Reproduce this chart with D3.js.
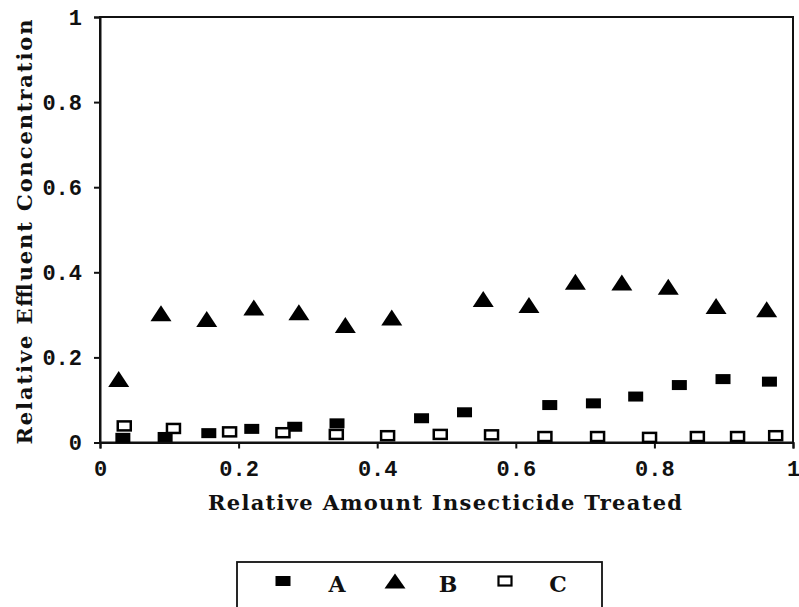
<!DOCTYPE html>
<html>
<head>
<meta charset="utf-8">
<script src="https://cdn.jsdelivr.net/npm/d3@7"></script>
<style>
  html, body { margin: 0; padding: 0; background: #fff; }
  svg { display: block; }
  text { font-weight: bold; fill: #111; }
  .serif { font-family: "DejaVu Serif", "Liberation Serif", serif; }
</style>
</head>
<body>
<svg id="chart" width="799" height="607"></svg>
<script>
// Relative effluent concentration vs. relative amount of insecticide treated
const xA = [0.033, 0.094, 0.157, 0.219, 0.281, 0.342, 0.464, 0.526, 0.649, 0.712, 0.773, 0.836, 0.899, 0.966];
const yA = [0.011, 0.013, 0.022, 0.032, 0.037, 0.045, 0.057, 0.071, 0.088, 0.092, 0.108, 0.135, 0.149, 0.143];

const xB = [0.027, 0.088, 0.154, 0.222, 0.287, 0.354, 0.421, 0.553, 0.619, 0.686, 0.753, 0.820, 0.889, 0.962];
const yB = [0.149, 0.304, 0.290, 0.317, 0.306, 0.276, 0.294, 0.337, 0.323, 0.378, 0.376, 0.366, 0.321, 0.313];

const xC = [0.035, 0.106, 0.187, 0.264, 0.341, 0.415, 0.491, 0.565, 0.642, 0.718, 0.793, 0.862, 0.920, 0.975];
const yC = [0.039, 0.033, 0.025, 0.023, 0.019, 0.016, 0.019, 0.018, 0.014, 0.014, 0.012, 0.014, 0.014, 0.016];

const tickValues = [0, 0.2, 0.4, 0.6, 0.8, 1];
const tickLabels = ["0", "0.2", "0.4", "0.6", "0.8", "1"];
const seriesNames = ["A", "B", "C"];

const svg = d3.select("#chart");
const x = d3.scaleLinear().domain([0, 1]).range([100, 793]);
const y = d3.scaleLinear().domain([0, 1]).range([442.5, 17]);

// Frame
svg.append("rect")
  .attr("x", x(0)).attr("y", y(1))
  .attr("width", x(1) - x(0)).attr("height", y(0) - y(1))
  .attr("fill", "none").attr("stroke", "#111").attr("stroke-width", 2);

const fmt = v => tickLabels[tickValues.indexOf(v)];

const yAxis = svg.append("g")
  .attr("transform", `translate(${x(0)},0)`)
  .call(d3.axisLeft(y).tickValues(tickValues).tickFormat(fmt).tickSize(6).tickPadding(12));
const xAxis = svg.append("g")
  .attr("transform", `translate(0,${y(0)})`)
  .call(d3.axisBottom(x).tickValues(tickValues).tickFormat(fmt).tickSize(6).tickPadding(12));

[xAxis, yAxis].forEach(g => {
  g.select(".domain").attr("stroke", "#111").attr("stroke-width", 2);
  g.selectAll(".tick line").attr("stroke", "#111").attr("stroke-width", 2);
  g.selectAll(".tick text")
    .attr("fill", "#111")
    .style("font-family", '"Liberation Mono", "Courier New", monospace')
    .style("font-weight", "bold")
    .style("font-size", "22px");
});

// Axis titles (typewriter-like spacing)
svg.append("text")
  .attr("class", "serif")
  .attr("x", 445).attr("y", 510)
  .attr("text-anchor", "middle")
  .attr("textLength", 474).attr("lengthAdjust", "spacing")
  .style("font-size", "21px")
  .text("Relative Amount Insecticide Treated");

svg.append("text")
  .attr("class", "serif")
  .attr("transform", "translate(32,232) rotate(-90)")
  .attr("text-anchor", "middle")
  .attr("textLength", 425).attr("lengthAdjust", "spacing")
  .style("font-size", "21px")
  .text("Relative Effluent Concentration");

// Marker shapes
const sqW = 15, sqH = 10;
const triPath = (cx, cy) => {
  const w = 21, h = 16;
  return `M${cx - w / 2},${cy + h / 2}L${cx},${cy - h / 2}L${cx + w / 2},${cy + h / 2}Z`;
};

const plot = svg.append("g");

// Series A: filled squares
plot.selectAll(".a").data(d3.zip(xA, yA)).join("rect")
  .attr("class", "a")
  .attr("x", d => x(d[0]) - sqW / 2).attr("y", d => y(d[1]) - sqH / 2)
  .attr("width", sqW).attr("height", sqH)
  .attr("fill", "#000");

// Series B: filled triangles
plot.selectAll(".b").data(d3.zip(xB, yB)).join("path")
  .attr("class", "b")
  .attr("d", d => triPath(x(d[0]), y(d[1])))
  .attr("fill", "#000");

// Series C: open squares
plot.selectAll(".c").data(d3.zip(xC, yC)).join("rect")
  .attr("class", "c")
  .attr("x", d => x(d[0]) - 6.5).attr("y", d => y(d[1]) - 4.5)
  .attr("width", 13).attr("height", 9)
  .attr("fill", "#fff").attr("stroke", "#000").attr("stroke-width", 2.5);

// Legend
const legend = svg.append("g");
legend.append("rect")
  .attr("x", 237).attr("y", 562).attr("width", 365).attr("height", 60)
  .attr("fill", "none").attr("stroke", "#111").attr("stroke-width", 1.8);

const legendMarkerX = [283, 395, 505];
const legendLabelX = [337, 448, 558];
const ly = 581;

legend.append("rect")
  .attr("x", legendMarkerX[0] - 7.5).attr("y", ly - 5)
  .attr("width", 15).attr("height", 10).attr("fill", "#000");
legend.append("path")
  .attr("d", `M${legendMarkerX[1] - 10.5},${ly + 7.5}L${legendMarkerX[1]},${ly - 7.5}L${legendMarkerX[1] + 10.5},${ly + 7.5}Z`)
  .attr("fill", "#000");
legend.append("rect")
  .attr("x", legendMarkerX[2] - 6.5).attr("y", ly - 4.5)
  .attr("width", 13).attr("height", 9)
  .attr("fill", "#fff").attr("stroke", "#000").attr("stroke-width", 2.2);

legend.selectAll(".lbl").data(seriesNames).join("text")
  .attr("class", "lbl serif")
  .attr("x", (d, i) => legendLabelX[i]).attr("y", 592)
  .attr("text-anchor", "middle")
  .style("font-size", "22px")
  .text(d => d);
</script>
</body>
</html>
